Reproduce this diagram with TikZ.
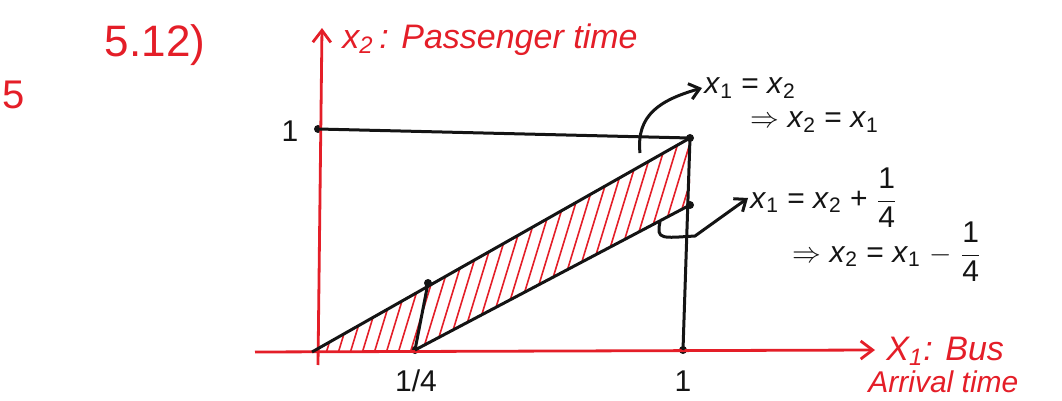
\documentclass[tikz,border=0pt]{standalone}
\usepackage{fontspec}
\setmainfont{Liberation Sans}
\usetikzlibrary{arrows.meta}
\definecolor{pen}{RGB}{228,30,40}
\definecolor{ink}{RGB}{20,20,20}
\newcommand{\vx}[1]{\textit{x}\textsubscript{#1}}
\newcommand{\VX}[1]{\textit{X}\textsubscript{#1}}
\newcommand{\qfrac}{$\displaystyle\frac{\mbox{1}}{\mbox{4}}$}
\begin{document}
\begin{tikzpicture}[x=0.5pt,y=-0.5pt,
  redline/.style={draw=pen,line width=1.4pt},
  blackline/.style={draw=ink,line width=1.5pt},
  axisarrow/.style={redline,-{Straight Barb[length=6pt,width=9pt]}},
  callout/.style={blackline,-{Straight Barb[length=5pt,width=8pt]}},
  redtext/.style={text=pen,font=\fontsize{17}{19}\selectfont\itshape,inner sep=1pt},
  blacktext/.style={text=ink,font=\fontsize{15}{17}\selectfont,inner sep=1pt},
  dot/.style={circle,fill=ink,inner sep=0pt,minimum size=4pt}]
\useasboundingbox (0,0) rectangle (1062,401);
% key points
\coordinate (O) at (312,352);
\node[dot] (Q) at (415,350) {};
\node[dot] (B) at (683,350) {};
\node[dot] (C) at (690,138) {};
\node[dot] (D) at (690,205) {};
\node[dot] (E) at (428,283) {};
\node[dot] (Y1) at (318,129) {};
\coordinate (xs) at (255,352);
\coordinate (xe) at (875,350);
\coordinate (ys) at (318,365);
\coordinate (ye) at (322,28);
% hatching
\begin{scope}
\clip (O) -- (C.center) -- (D.center) -- (Q.center) -- cycle;
\foreach \i in {0,...,36} {
  \draw[pen,line width=0.8pt] ({300+\i*12},360) -- ({300+\i*12+70},130);
}
\end{scope}
% axes
\draw[axisarrow] (xs) -- (xe);
\draw[axisarrow] (ys) -- (ye);
% region lines
\draw[blackline] (O) -- (C.center);
\draw[blackline] (Q.center) -- (D.center);
\draw[blackline] (Q.center) -- (E.center);
\draw[blackline] (Y1.center) -- (C.center);
\draw[blackline] (C.center) -- (B.center);
% labels
\node[redtext,font=\fontsize{22}{24}\selectfont] (t512) at (155,45) {5.12)};
\node[redtext,font=\fontsize{20}{22}\selectfont] (t5) at (14,95) {5};
\node[redtext,anchor=west] (ylab) at (340,40) {\vx{2}\,: Passenger time};
\node[blacktext] (one_y) at (290,131) {1};
\node[blacktext] (quarter) at (416,381) {1/4};
\node[blacktext] (one_x) at (683,381) {1};
\node[redtext,anchor=west] (xlab) at (884,351) {\VX{1}: Bus};
\node[redtext,anchor=west,font=\fontsize{15}{17}\selectfont\itshape] (xlab2) at (866,382) {Arrival time};
% equations
\node[blacktext,anchor=west] (eq1) at (702,88) {\vx{1} = \vx{2}};
\node[blacktext,anchor=west] (eq1b) at (748,122) {$\Rightarrow$ \vx{2} = \vx{1}};
\node[blacktext,anchor=west] (eq2) at (748,198) {\vx{1} = \vx{2} + \qfrac};
\node[blacktext,anchor=west] (eq2b) at (790,252) {$\Rightarrow$ \vx{2} = \vx{1} $-$ \qfrac};
% callout arrows
\coordinate (c1s) at (640,153);
\coordinate (c2s) at (660,222);
\draw[callout] (c1s) .. controls (636,115) and (660,100) .. (eq1.west);
\draw[callout] (c2s) .. controls (656,240) and (662,238) .. (695,236) -- (eq2.west);
\end{tikzpicture}
\end{document}
